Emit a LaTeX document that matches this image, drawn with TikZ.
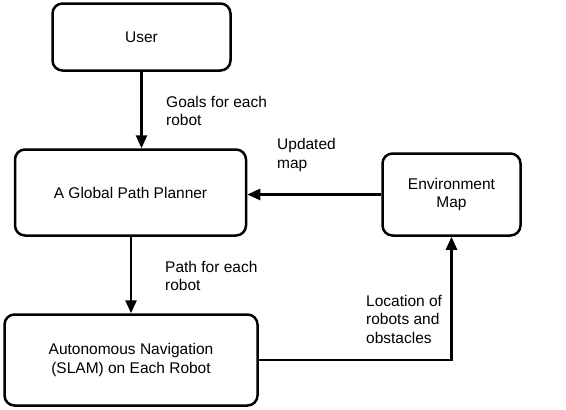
\documentclass[tikz,border=0pt]{standalone}
\usepackage{fontspec}
\setmainfont{Liberation Sans}
\usepackage{tikz}
\usetikzlibrary{arrows.meta}

\begin{document}
\begin{tikzpicture}[x=1pt, y=-1pt,
	every node/.style={font=\fontsize{15.5}{18.5}\selectfont},
	block/.style={draw, line width=2.5pt, rounded corners=10pt, align=center, inner sep=0pt},
	note/.style={anchor=west, align=left, inner sep=0pt},
	flow/.style={line width=2.5pt, -{Triangle[length=13pt, width=11pt]}}]
	\useasboundingbox (0, 0) rectangle (566, 410);
	\node[block, minimum width=178, minimum height=67] (user) at (141.5, 37) {User};
	\node[block, minimum width=231, minimum height=86] (planner) at (130.5, 192.5) {A Global Path Planner};
	\node[block, minimum width=138, minimum height=82] (envmap) at (451.5, 194.5) {Environment\\Map};
	\node[block, minimum width=253, minimum height=91] (nav) at (131, 360) {Autonomous Navigation\\(SLAM) on Each Robot};
	\draw[flow] (user.south) -- (user.south |- planner.north);
	\draw[flow] (envmap.west) -- (envmap.west -| planner.east);
	\draw[flow] (planner.south -| nav.north) -- (nav.north);
	\draw[flow] (nav.east) -| (envmap.south);
	\node[note] (goals) at (166, 111) {Goals for each\\robot};
	\node[note] (updated) at (277, 155) {Updated\\map};
	\node[note] (pathlbl) at (165, 276) {Path for each\\robot};
	\node[note] (location) at (366, 319) {Location of\\robots and\\obstacles};
\end{tikzpicture}
\end{document}
